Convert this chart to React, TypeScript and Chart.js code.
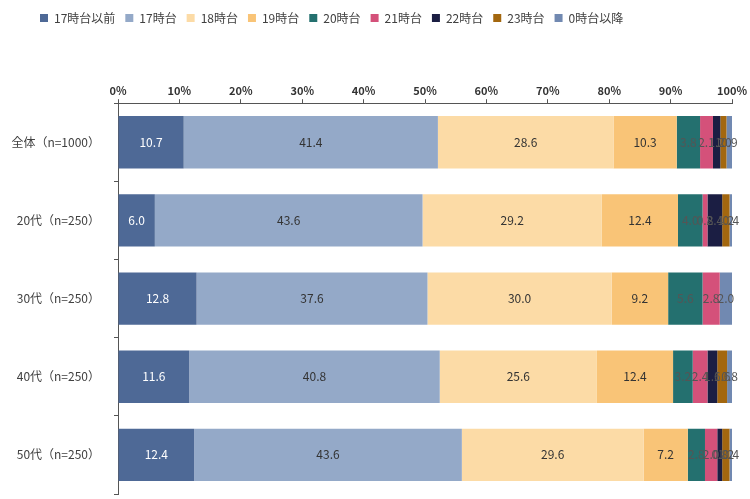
import React, { useEffect, useRef } from "react";
import { Chart, registerables } from "chart.js";

Chart.register(...registerables);

const categories = ["全体（n=1000）", "20代（n=250）", "30代（n=250）", "40代（n=250）", "50代（n=250）"];
const seriesNames = ["17時台以前", "17時台", "18時台", "19時台", "20時台", "21時台", "22時台", "23時台", "0時台以降"];
const s17before = [10.7, 6.0, 12.8, 11.6, 12.4];
const s17 = [41.4, 43.6, 37.6, 40.8, 43.6];
const s18 = [28.6, 29.2, 30.0, 25.6, 29.6];
const s19 = [10.3, 12.4, 9.2, 12.4, 7.2];
const s20 = [3.8, 4.0, 5.6, 3.2, 2.8];
const s21 = [2.1, 0.8, 2.8, 2.4, 2.0];
const s22 = [1.2, 2.4, 0, 1.6, 0.8];
const s23 = [1.0, 1.2, 0, 1.6, 1.2];
const s0after = [0.9, 0.4, 2.0, 0.8, 0.4];
const xTicks = [0, 10, 20, 30, 40, 50, 60, 70, 80, 90, 100];

const seriesValues = [s17before, s17, s18, s19, s20, s21, s22, s23, s0after];
const colors = ["#4E6996", "#94A9C8", "#FCDBA6", "#F9C477", "#24706F", "#D4517A", "#1B1E43", "#A3670F", "#7189B1"];
const labelColors = ["#FFFFFF", "#333333", "#333333", "#333333", "#555555", "#555555", "#555555", "#555555", "#555555"];

const FONT = "'Noto Sans CJK JP', 'Noto Sans', sans-serif";

const labelPlugin = {
  id: "segLabels",
  afterDatasetsDraw(chart: any) {
    const ctx = chart.ctx;
    ctx.save();
    ctx.font = `12px ${FONT}`;
    ctx.textAlign = "center";
    ctx.textBaseline = "middle";
    chart.data.datasets.forEach((ds: any, di: number) => {
      const meta = chart.getDatasetMeta(di);
      meta.data.forEach((bar: any, i: number) => {
        const v = ds.data[i];
        if (!v) return;
        const cx = (bar.x + bar.base) / 2;
        ctx.fillStyle = labelColors[di];
        ctx.fillText(v.toFixed(1), cx, bar.y);
      });
    });
    ctx.restore();
  },
};

const legendGap = {
  id: "legendGap",
  beforeInit(chart: any) {
    const orig = chart.legend.fit;
    chart.legend.fit = function () {
      orig.call(this);
      this.height += 48;
    };
  },
  afterLayout(chart: any) {
    chart.legend.left += 30;
  },
};

export default function App() {
  const ref = useRef<HTMLCanvasElement>(null);
  useEffect(() => {
    document.body.style.margin = "0";
    const chart = new Chart(ref.current!, {
      type: "bar",
      data: {
        labels: categories,
        datasets: seriesNames.map((name, i) => ({
          label: name,
          data: seriesValues[i],
          backgroundColor: colors[i],
          borderWidth: 0,
          barPercentage: 0.67,
          categoryPercentage: 1,
        })),
      },
      options: {
        indexAxis: "y",
        animation: false,
        responsive: false,
        layout: { padding: { left: 0, right: 18, top: 2, bottom: 5 } },
        plugins: {
          legend: {
            position: "top",
            align: "start",
            labels: {
              boxWidth: 8,
              boxHeight: 8,
              padding: 10,
              color: "#404040",
              font: { family: FONT, size: 12 },
            },
          },
          tooltip: { enabled: false },
        },
        scales: {
          x: {
            position: "top",
            stacked: true,
            min: 0,
            max: 100,
            afterBuildTicks: (scale: any) => {
              scale.ticks = xTicks.map((v) => ({ value: v }));
            },
            ticks: {
              callback: (v: any) => v + "%",
              color: "#333333",
              font: { family: FONT, size: 11, weight: "bold" },
              padding: 2,
              maxRotation: 0,
            },
            grid: { drawOnChartArea: false, tickLength: 4, color: "#555555" },
            border: { color: "#555555" },
          },
          y: {
            stacked: true,
            afterFit: (scale: any) => {
              scale.width = 118;
              scale.paddingTop = 0;
              scale.paddingBottom = 0;
            },
            ticks: {
              color: "#404040",
              font: { family: FONT, size: 12 },
              padding: 14,
            },
            grid: { drawOnChartArea: false, tickLength: 4, color: "#555555", offset: true },
            border: { color: "#555555" },
          },
        },
      },
      plugins: [labelPlugin, legendGap],
    });
    return () => chart.destroy();
  }, []);
  return <canvas ref={ref} width={750} height={499} style={{ display: "block" }} />;
}
